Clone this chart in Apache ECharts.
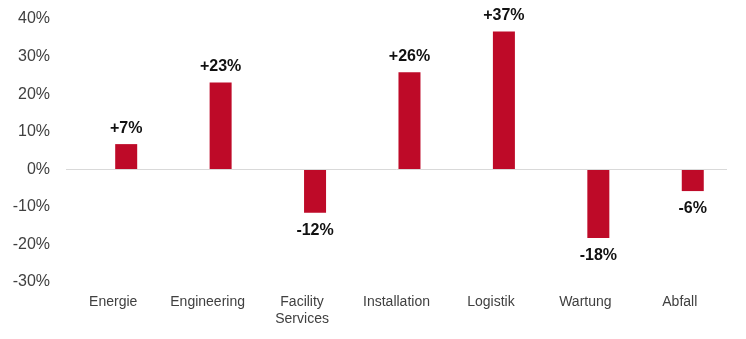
<!DOCTYPE html>
<html>
<head>
<meta charset="utf-8">
<script src="https://cdn.jsdelivr.net/npm/echarts@6/dist/echarts.min.js"></script>
<style>html,body{margin:0;padding:0;background:#fff;}#c{width:746px;height:339px;}</style>
</head>
<body>
<div id="c"></div>
<script>
const categories = ['Energie', 'Engineering', 'Facility\nServices', 'Installation', 'Logistik', 'Wartung', 'Abfall'];
const values = [6.7, 23.1, -11.6, 25.8, 36.7, -18.3, -5.8];
const yTicks = { min: -30, max: 40, interval: 10 };

const chart = echarts.init(document.getElementById('c'), null, { renderer: 'canvas' });
const fontFamily = 'Liberation Sans, Arial, sans-serif';
const barData = values.map(v => ({
  value: v,
  label: {
    position: v >= 0 ? 'top' : 'bottom',
    distance: v >= 0 ? 8 : 10
  }
}));
chart.setOption({
  animation: false,
  grid: { left: 66, right: 19, top: 19, bottom: 57 },
  xAxis: {
    type: 'category',
    data: categories,
    axisLine: { show: false },
    axisTick: { show: false },
    axisLabel: { color: '#404040', fontSize: 14, fontFamily, margin: 12, lineHeight: 17, interval: 0 }
  },
  yAxis: {
    type: 'value',
    min: yTicks.min, max: yTicks.max, interval: yTicks.interval,
    axisLine: { show: false },
    axisTick: { show: false },
    splitLine: { show: false },
    axisLabel: { color: '#404040', fontSize: 16, fontFamily, margin: 16, formatter: '{value}%' }
  },
  series: [
    {
      type: 'bar',
      data: values.map(() => null),
      barWidth: 22,
      barGap: '18%',
      silent: true
    },
    {
      type: 'bar',
      data: barData,
      barWidth: 22,
      barGap: '18%',
      itemStyle: { color: '#BE0A28' },
      label: {
        show: true,
        color: '#111',
        fontSize: 16,
        fontWeight: 'bold',
        fontFamily,
        formatter: p => (p.value > 0 ? '+' : '') + Math.round(p.value) + '%'
      },
      markLine: {
        silent: true,
        symbol: 'none',
        label: { show: false },
        lineStyle: { color: '#d9d9d9', type: 'solid', width: 1 },
        data: [{ yAxis: 0 }]
      }
    }
  ]
});
</script>
</body>
</html>
